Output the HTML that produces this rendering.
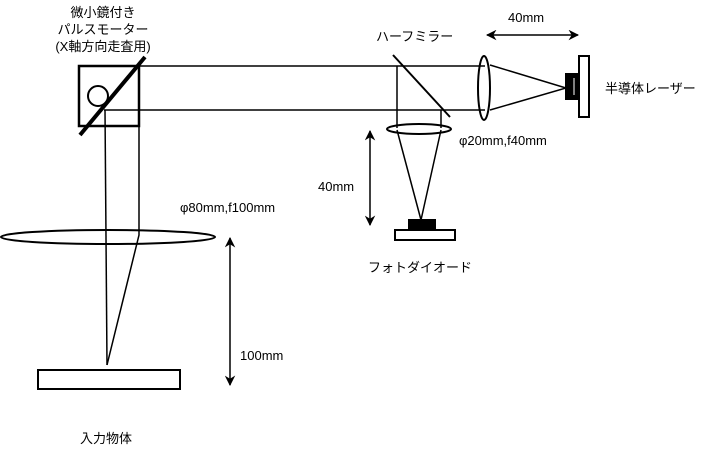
<!DOCTYPE html>
<html><head><meta charset="utf-8"><style>
body{margin:0;background:#fff}
svg{display:block}
text{font-family:"Liberation Sans","Noto Sans CJK JP",sans-serif;font-size:13px;fill:#000}
</style></head><body>
<svg width="720" height="451" viewBox="0 0 720 451">
<defs>
<marker id="ah" viewBox="0 0 10 10" refX="9" refY="5" markerWidth="7" markerHeight="7" orient="auto-start-reverse"><path d="M0,0 L10,5 L0,10 L3,5 z" fill="#000"/></marker>
</defs>
<g text-anchor="middle">
<text x="103" y="17">微小鏡付き</text>
<text x="103" y="34">パルスモーター</text>
<text x="103" y="51">(X軸方向走査用)</text>
</g>
<g stroke="#000" stroke-width="1.5" fill="none">
<line x1="139" y1="66" x2="485" y2="66"/>
<line x1="104" y1="110" x2="485" y2="110"/>
<line x1="105" y1="110" x2="107" y2="365"/>
<polyline points="139,126 139,235 107,365"/>
<line x1="397" y1="66" x2="397" y2="128"/>
<line x1="441" y1="110" x2="441" y2="128"/>
<polyline points="397,130 421,220 441,130"/>
<polyline points="490,65 566,88 490,110"/>
</g>
<rect x="79" y="66" width="60" height="60" fill="none" stroke="#000" stroke-width="2.5"/>
<circle cx="98" cy="96" r="10" fill="none" stroke="#000" stroke-width="2"/>
<line x1="80" y1="135" x2="145" y2="57" stroke="#000" stroke-width="4"/>
<ellipse cx="108" cy="237" rx="107" ry="7" fill="none" stroke="#000" stroke-width="2"/>
<text x="180" y="212">φ80mm,f100mm</text>
<rect x="38" y="370" width="142" height="19" fill="none" stroke="#000" stroke-width="2"/>
<text x="80" y="443">入力物体</text>
<line x1="230" y1="238" x2="230" y2="385" stroke="#000" stroke-width="1.5" marker-start="url(#ah)" marker-end="url(#ah)"/>
<text x="240" y="360">100mm</text>
<line x1="393" y1="55" x2="450" y2="117" stroke="#000" stroke-width="2"/>
<text x="376" y="41">ハーフミラー</text>
<ellipse cx="419" cy="129" rx="32" ry="5" fill="none" stroke="#000" stroke-width="2"/>
<text x="459" y="145">φ20mm,f40mm</text>
<rect x="408" y="219" width="28" height="11" fill="#000"/>
<rect x="395" y="230" width="60" height="10" fill="none" stroke="#000" stroke-width="2"/>
<text x="368" y="272">フォトダイオード</text>
<line x1="370" y1="131" x2="370" y2="225" stroke="#000" stroke-width="1.5" marker-start="url(#ah)" marker-end="url(#ah)"/>
<text x="318" y="191">40mm</text>
<ellipse cx="484" cy="88" rx="6" ry="32" fill="none" stroke="#000" stroke-width="2"/>
<rect x="565" y="73" width="18" height="27" fill="#000"/>
<line x1="574" y1="78" x2="574" y2="95" stroke="#fff" stroke-width="1"/>
<rect x="579" y="56" width="10" height="61" fill="#fff" stroke="#000" stroke-width="2"/>
<text x="605" y="93">半導体レーザー</text>
<line x1="487" y1="35" x2="578" y2="35" stroke="#000" stroke-width="1.5" marker-start="url(#ah)" marker-end="url(#ah)"/>
<text x="508" y="22">40mm</text>
</svg>
</body></html>
